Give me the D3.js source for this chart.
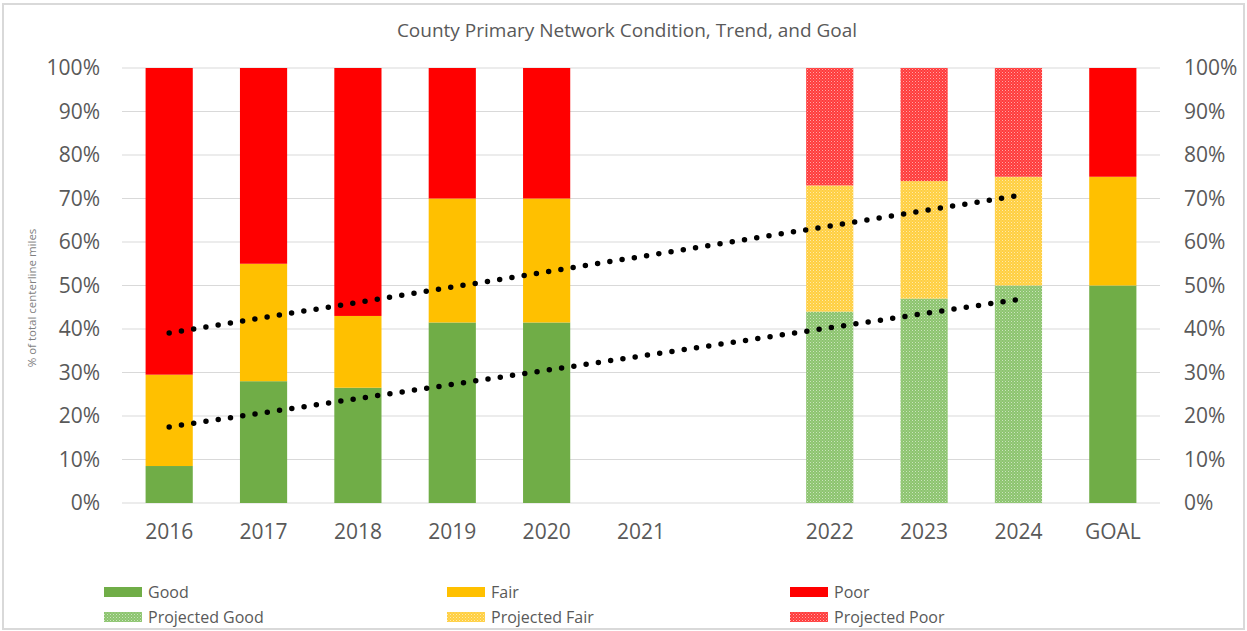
<!DOCTYPE html>
<html>
<head>
<meta charset="utf-8">
<script src="https://cdn.jsdelivr.net/npm/d3@7"></script>
<style>
  html, body { margin: 0; padding: 0; background: #fff; }
  svg { display: block; font-family: "Open Sans", "Noto Sans", sans-serif; }
</style>
</head>
<body>
<svg id="chart" width="1247" height="631"></svg>
<script>
// Categories along the x axis (one unlabeled slot separates actual from projected years)
const categories = ["2016", "2017", "2018", "2019", "2020", "2021", " ", "2022", "2023", "2024", "GOAL"];

// Percent of total centerline miles by condition (null = no bar)
const good   = [8.5, 28, 26.5, 41.5, 41.5, null, null, null, null, null, 50];
const fair   = [21, 27, 16.5, 28.5, 28.5, null, null, null, null, null, 25];
const poor   = [70.5, 45, 57, 30, 30, null, null, null, null, null, 25];
const projGood = [null, null, null, null, null, null, null, 44, 47, 50, null];
const projFair = [null, null, null, null, null, null, null, 29, 27, 25, null];
const projPoor = [null, null, null, null, null, null, null, 27, 26, 25, null];

// Linear trend lines (start / end points)
const trendGood     = [{ cat: "2016", v: 17.5 }, { cat: "2024", v: 46.8 }];
const trendGoodFair = [{ cat: "2016", v: 39.1 }, { cat: "2024", v: 70.7 }];

const yTicks = [0, 10, 20, 30, 40, 50, 60, 70, 80, 90, 100];

const seriesList = [
  { key: "Good", values: good, fill: "#70AD47" },
  { key: "Fair", values: fair, fill: "#FFC000" },
  { key: "Poor", values: poor, fill: "#FF0000" },
  { key: "Projected Good", values: projGood, fill: "url(#pat-good)" },
  { key: "Projected Fair", values: projFair, fill: "url(#pat-fair)" },
  { key: "Projected Poor", values: projPoor, fill: "url(#pat-poor)" }
];

const svg = d3.select("#chart");
const W = 1247, H = 631;
const margin = { top: 68, right: 87, bottom: 128, left: 122 };
const plotW = W - margin.left - margin.right;
const plotH = H - margin.top - margin.bottom;

// Dotted fills for projected values
const defs = svg.append("defs");
[["pat-good", "#8CC46E"], ["pat-fair", "#FFCF40"], ["pat-poor", "#FF3B3B"]].forEach(([id, c]) => {
  const p = defs.append("pattern").attr("id", id).attr("patternUnits", "userSpaceOnUse")
    .attr("width", 3).attr("height", 3);
  p.append("rect").attr("width", 3).attr("height", 3).attr("fill", c);
  p.append("rect").attr("x", 0).attr("y", 0).attr("width", 1).attr("height", 1).attr("fill", "#fff").attr("opacity", 0.55);
  p.append("rect").attr("x", 1.5).attr("y", 1.5).attr("width", 1).attr("height", 1).attr("fill", "#fff").attr("opacity", 0.35);
});

// Outer frame
svg.append("rect").attr("x", 3).attr("y", 4).attr("width", W - 6).attr("height", H - 6)
  .attr("fill", "#fff").attr("stroke", "#d9d9d9").attr("stroke-width", 2);

const x = d3.scaleBand().domain(categories).range([margin.left, margin.left + plotW]).paddingInner(0.5).paddingOuter(0.25);
const y = d3.scaleLinear().domain([0, 100]).range([margin.top + plotH, margin.top]);

// Gridlines
svg.append("g").selectAll("line").data(yTicks).join("line")
  .attr("x1", margin.left).attr("x2", margin.left + plotW)
  .attr("y1", d => y(d)).attr("y2", d => y(d))
  .attr("stroke", "#d9d9d9").attr("stroke-width", 1.2);

// Stacked bars
const stackRows = categories.map((c, i) => {
  const row = { cat: c };
  seriesList.forEach(s => row[s.key] = s.values[i] == null ? 0 : s.values[i]);
  return row;
});
const stack = d3.stack().keys(seriesList.map(s => s.key))(stackRows);
const barG = svg.append("g");
stack.forEach((layer, li) => {
  barG.append("g").attr("fill", seriesList[li].fill)
    .selectAll("rect").data(layer.filter(d => d[1] > d[0])).join("rect")
    .attr("x", d => x(d.data.cat))
    .attr("width", x.bandwidth())
    .attr("y", d => y(d[1]))
    .attr("height", d => y(d[0]) - y(d[1]));
});

// Axes (left and right)
const axisFmt = d => d + "%";
const leftAxis = svg.append("g").attr("transform", `translate(${margin.left},0)`)
  .call(d3.axisLeft(y).tickValues(yTicks).tickFormat(axisFmt).tickSize(0).tickPadding(22));
const rightAxis = svg.append("g").attr("transform", `translate(${margin.left + plotW},0)`)
  .call(d3.axisRight(y).tickValues(yTicks).tickFormat(axisFmt).tickSize(0).tickPadding(24));
[leftAxis, rightAxis].forEach(a => {
  a.select(".domain").remove();
  a.selectAll("text").attr("font-size", 21).attr("fill", "#595959").attr("font-family", "'Open Sans', sans-serif");
});

const bottomAxis = svg.append("g").attr("transform", `translate(0,${margin.top + plotH})`)
  .call(d3.axisBottom(x).tickSize(0).tickPadding(21));
bottomAxis.select(".domain").remove();
bottomAxis.selectAll("text").attr("font-size", 21).attr("fill", "#595959").attr("font-family", "'Open Sans', sans-serif");

// Trend lines
const line = d3.line().x(d => x(d.cat) + x.bandwidth() / 2).y(d => y(d.v));
[trendGood, trendGoodFair].forEach(t => {
  svg.append("path").datum(t).attr("d", line)
    .attr("fill", "none").attr("stroke", "#000").attr("stroke-width", 5.5)
    .attr("stroke-linecap", "round").attr("stroke-dasharray", "0 12.4");
});

// Title
svg.append("text").attr("x", 627).attr("y", 37).attr("text-anchor", "middle")
  .attr("font-size", 19).attr("fill", "#595959").text("County Primary Network Condition, Trend, and Goal");

// Y axis title
svg.append("text").attr("transform", `translate(36,298) rotate(-90)`)
  .attr("text-anchor", "middle").attr("font-size", 11.5).attr("fill", "#7f7f7f")
  .text("% of total centerline miles");

// Legend (two rows, three columns)
const legendCols = [104, 447, 790];
const legendRows = [592, 617];
seriesList.forEach((s, i) => {
  const lx = legendCols[i % 3], ly = legendRows[Math.floor(i / 3)];
  const g = svg.append("g").attr("transform", `translate(${lx},${ly})`);
  g.append("rect").attr("x", 0).attr("y", -5).attr("width", 38).attr("height", 10).attr("fill", s.fill);
  g.append("text").attr("x", 44).attr("y", 0).attr("dy", "0.35em")
    .attr("font-size", 16).attr("fill", "#595959").text(s.key);
});
</script>
</body>
</html>
